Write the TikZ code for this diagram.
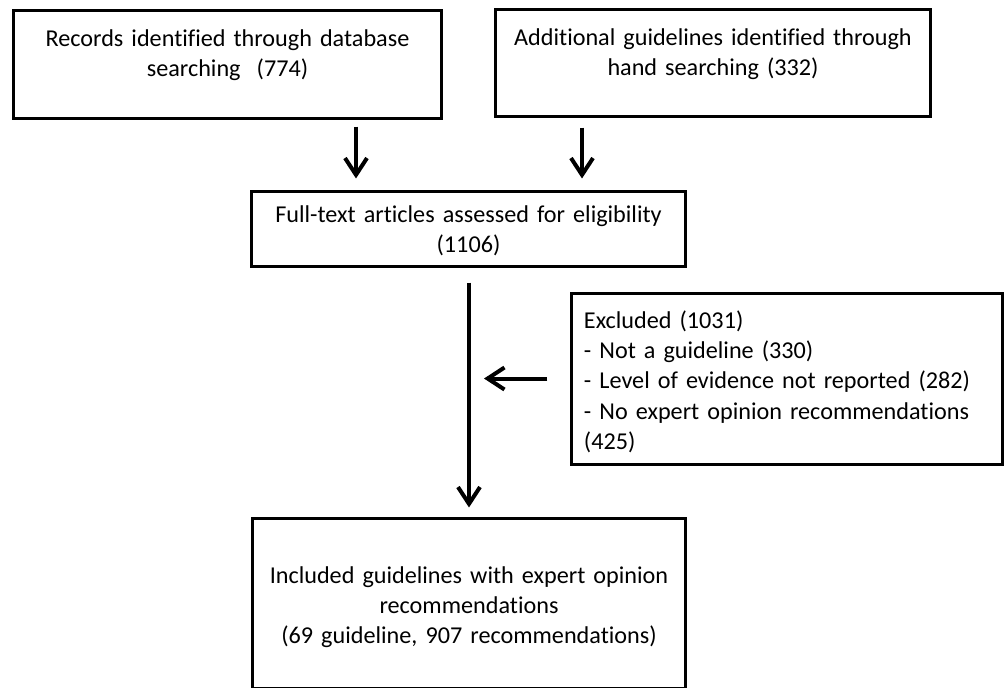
\documentclass[tikz,border=0pt]{standalone}
\usepackage{fontspec}
\setmainfont{Carlito}[Ligatures=NoCommon]
\usetikzlibrary{arrows.meta}

\tikzset{flow box/.style={draw,line width=0.075cm,anchor=base,align=center,inner xsep=0.3cm,inner ysep=0cm,font=\fontsize{17.2}{21.6}\selectfont},
excluded box/.style={flow box,align=left},
flow arrow/.style={line width=0.1cm,-{Straight Barb[length=0.42cm,width=0.55cm]}}}

\begin{document}
\begin{tikzpicture}[x=0.025cm,y=-0.025cm]
\useasboundingbox (0,0) rectangle (1004,687);

% one unit is one pixel of the reference, y runs downwards

%% Coordinates of arrows.
\coordinate (a1) at (356,0);
\coordinate (a2) at (582,0);
\coordinate (a3) at (469,0);

%% boxes (placed at the baseline of their first line)
\node [flow box,text width=10.075cm,text height=0.875cm,text depth=1.8cm] (records) at (227.5,46) {Records identified through database\\searching~~(774)};
\node [flow box,text width=10.25cm,text height=0.875cm,text depth=1.775cm] (additional) at (713,45) {Additional guidelines identified through\\hand searching (332)};
\node [flow box,text width=10.225cm,text height=0.775cm,text depth=1.1cm] (fulltext) at (468.5,222) {Full-text articles assessed for eligibility\\(1106)};
\node [excluded box,text width=10.15cm,text height=0.875cm,text depth=3.4cm] (excluded) at (787,328) {Excluded (1031)\\- Not a guideline (330)\\- Level of evidence not reported (282)\\- No expert opinion recommendations\\(425)};
\node [flow box,text width=10.2cm,text height=1.6cm,text depth=2.625cm] (included) at (469,583) {Included guidelines with expert opinion\\recommendations\\(69 guideline, 907 recommendations)};

%% arrows
\draw [flow arrow,shorten <=0.175cm,shorten >=0.275cm] (records.south -| a1) -- (fulltext.north -| a1);
\draw [flow arrow,shorten <=0.25cm,shorten >=0.275cm] (additional.south -| a2) -- (fulltext.north -| a2);
\draw [flow arrow,shorten <=0.375cm,shorten >=0.25cm] (fulltext.south -| a3) -- (included.north -| a3);
\draw [flow arrow,shorten <=0.575cm,shorten >=0.375cm] (excluded.west) -- (excluded.west -| a3);

\end{tikzpicture}
\end{document}
